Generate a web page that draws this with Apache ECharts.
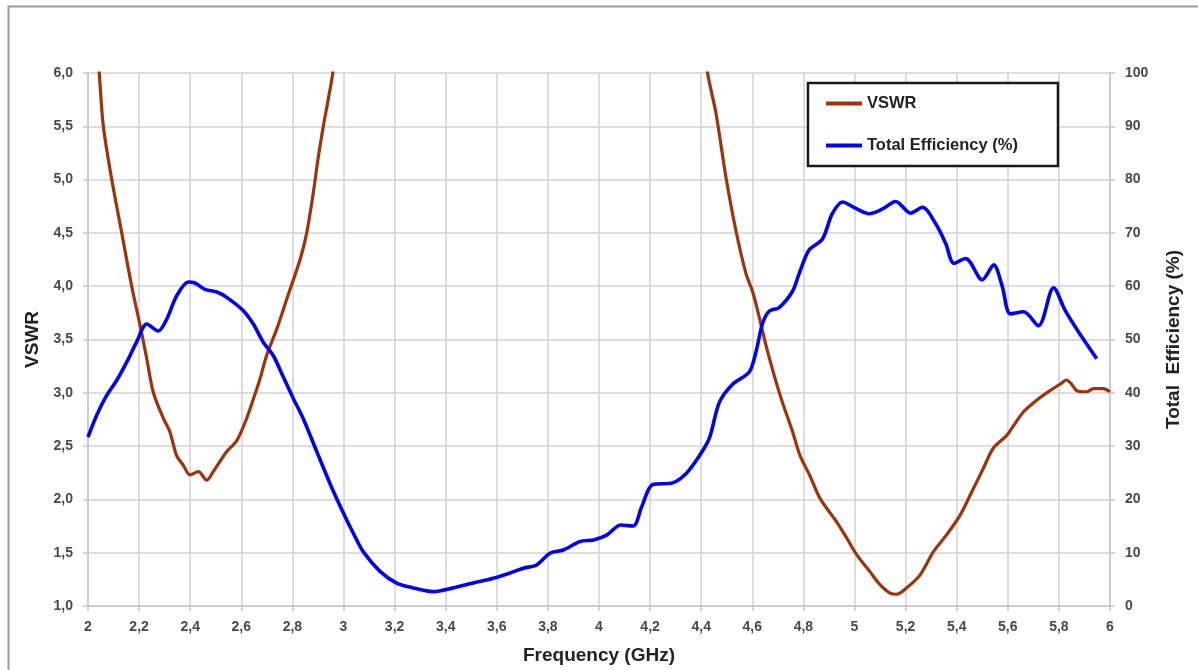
<!DOCTYPE html>
<html>
<head>
<meta charset="utf-8">
<script src="https://cdn.jsdelivr.net/npm/echarts@6/dist/echarts.min.js"></script>
<style>
html,body{margin:0;padding:0;background:#fff;}
#chart{width:1198px;height:670px;}
</style>
</head>
<body>
<div id="chart"></div>
<script>
// Frequency (GHz) and VSWR readings
var vswrFreq = [2.0, 2.044, 2.06, 2.093, 2.132, 2.171, 2.204, 2.23, 2.256, 2.295, 2.321, 2.347, 2.373, 2.399, 2.432, 2.465, 2.49, 2.543, 2.582, 2.621, 2.647, 2.673, 2.699, 2.739, 2.778, 2.83, 2.856, 2.882, 2.90, 2.921, 2.94, 2.958, 2.98,
  3.7,
  4.40, 4.425, 4.458, 4.497, 4.536, 4.575, 4.601, 4.627, 4.653, 4.692, 4.718, 4.757, 4.787, 4.826, 4.865, 4.93, 4.969, 5.009, 5.061, 5.10, 5.139, 5.165, 5.204, 5.256, 5.309, 5.361, 5.413, 5.465, 5.504, 5.543, 5.596, 5.622, 5.661, 5.713, 5.765, 5.804, 5.83, 5.85, 5.87, 5.909, 5.935, 5.974, 6.0];
var vswrVals = [7.3, 6.0, 5.5, 5.0, 4.5, 4.0, 3.63, 3.32, 3.0, 2.76, 2.63, 2.41, 2.32, 2.23, 2.26, 2.18, 2.26, 2.45, 2.55, 2.76, 2.94, 3.13, 3.35, 3.6, 3.88, 4.25, 4.5, 4.88, 5.19, 5.5, 5.75, 6.0, 6.5,
  null,
  6.5, 6.0, 5.62, 5.02, 4.52, 4.12, 3.95, 3.71, 3.45, 3.11, 2.91, 2.64, 2.41, 2.22, 2.01, 1.79, 1.64, 1.48, 1.32, 1.20, 1.12, 1.11, 1.17, 1.29, 1.51, 1.67, 1.85, 2.10, 2.29, 2.48, 2.60, 2.69, 2.82, 2.93, 3.02, 3.08, 3.12, 3.08, 3.02, 3.01, 3.04, 3.04, 3.01];

// Frequency (GHz) and total efficiency (%) readings
var effFreq = [2.0, 2.034, 2.073, 2.112, 2.151, 2.19, 2.23, 2.275, 2.308, 2.347, 2.393, 2.419, 2.458, 2.504, 2.543, 2.608, 2.647, 2.686, 2.725, 2.764, 2.804, 2.843, 2.895, 2.947, 2.999, 3.040, 3.077, 3.143, 3.208, 3.273, 3.351, 3.43, 3.508, 3.586, 3.652, 3.704, 3.756, 3.808, 3.86, 3.926, 3.978, 4.03, 4.085, 4.134, 4.167, 4.21, 4.288, 4.34, 4.393, 4.432, 4.471, 4.523, 4.588, 4.614, 4.64, 4.666, 4.705, 4.757, 4.783, 4.822, 4.874, 4.913, 4.953, 5.005, 5.057, 5.11, 5.161, 5.22, 5.266, 5.318, 5.357, 5.389, 5.435, 5.5, 5.545, 5.578, 5.61, 5.662, 5.72, 5.779, 5.825, 5.877, 5.948];
var effVals = [31.7, 35.8, 39.5, 42.3, 45.7, 49.5, 52.9, 51.6, 53.8, 58.2, 60.8, 60.6, 59.4, 58.9, 57.9, 55.4, 52.9, 49.5, 47.0, 43.0, 38.9, 35.1, 29.0, 23.0, 17.5, 13.5, 10.2, 6.5, 4.3, 3.4, 2.7, 3.4, 4.3, 5.2, 6.2, 7.1, 7.7, 9.9, 10.5, 12.1, 12.4, 13.3, 15.2, 15.0, 18.6, 22.8, 23.1, 24.8, 28.2, 31.5, 38.2, 41.6, 43.9, 47.6, 53.0, 55.3, 56.0, 59.0, 62.3, 66.8, 68.8, 73.6, 75.8, 74.6, 73.6, 74.5, 75.9, 73.7, 74.8, 71.7, 68.0, 64.3, 65.2, 61.2, 64.0, 60.0, 54.8, 55.2, 52.6, 59.7, 55.4, 51.4, 46.4];

var fontFam = '"Liberation Sans", Arial, sans-serif';

function pairs(xs, ys) {
  var out = [];
  for (var i = 0; i < xs.length; i++) out.push([xs[i], ys[i] === null ? '-' : ys[i]]);
  return out;
}
function commaFmt(digits) {
  return function (v) {
    var r = Math.round(v * 10) / 10;
    var s = digits ? r.toFixed(digits) : String(r);
    return s.replace('.', ',');
  };
}

var chart = echarts.init(document.getElementById('chart'));
var axisLineColor = '#c6c6c6';
var labelStyle = {fontFamily: fontFam, fontWeight: 'bold', fontSize: 14, color: '#484848'};

chart.setOption({
  backgroundColor: '#ffffff',
  animation: false,
  graphic: [{
    type: 'rect', left: 6, top: 4,
    shape: {x: 0, y: 0, width: 1200, height: 700},
    style: {fill: 'none', stroke: '#9a9a9a', lineWidth: 2},
    silent: true
  }],
  grid: {left: 88, right: 88, top: 73, bottom: 62, containLabel: false},
  legend: {
    orient: 'vertical',
    left: 808, top: 83,
    backgroundColor: '#fff',
    borderColor: '#1a1a1a', borderWidth: 2.5, borderRadius: 0,
    padding: [12, 40, 12, 18],
    itemGap: 25,
    itemWidth: 36, itemHeight: 4,
    icon: 'rect',
    textStyle: {fontFamily: fontFam, fontWeight: 'bold', fontSize: 16.5, color: '#222'},
    data: ['VSWR', 'Total Efficiency (%)']
  },
  xAxis: {
    type: 'value', min: 2, max: 6, interval: 0.2,
    axisLine: {show: true, onZero: false, lineStyle: {color: axisLineColor, width: 1.5}},
    axisTick: {show: true, length: 5, lineStyle: {color: axisLineColor, width: 1.5}},
    splitLine: {show: true, lineStyle: {color: '#d2d2d2', width: 1.5}},
    axisLabel: Object.assign({formatter: commaFmt(0), margin: 14}, labelStyle),
    name: 'Frequency (GHz)', nameLocation: 'middle', nameGap: 40,
    nameTextStyle: {fontFamily: fontFam, fontWeight: 'bold', fontSize: 19, color: '#222'}
  },
  yAxis: [{
    type: 'value', min: 1, max: 6, interval: 0.5, position: 'left',
    axisLine: {show: true, onZero: false, lineStyle: {color: axisLineColor, width: 1.5}},
    axisTick: {show: true, length: 5, lineStyle: {color: axisLineColor, width: 1.5}},
    splitLine: {show: true, lineStyle: {color: '#d2d2d2', width: 1.5}},
    axisLabel: Object.assign({formatter: commaFmt(1), margin: 15}, labelStyle),
    name: 'VSWR', nameLocation: 'middle', nameGap: 44,
    nameTextStyle: {fontFamily: fontFam, fontWeight: 'bold', fontSize: 19, color: '#222'}
  }, {
    type: 'value', min: 0, max: 100, interval: 10, position: 'right',
    axisLine: {show: true, onZero: false, lineStyle: {color: axisLineColor, width: 1.5}},
    axisTick: {show: true, length: 5, lineStyle: {color: axisLineColor, width: 1.5}},
    splitLine: {show: false},
    axisLabel: Object.assign({margin: 15}, labelStyle),
    name: 'Total  Efficiency (%)', nameLocation: 'middle', nameGap: 54,
    nameTextStyle: {fontFamily: fontFam, fontWeight: 'bold', fontSize: 19, color: '#222'}
  }],
  series: [{
    name: 'VSWR', type: 'line', yAxisIndex: 0,
    data: pairs(vswrFreq, vswrVals),
    smooth: 0.3, showSymbol: false, connectNulls: false,
    lineStyle: {color: '#9E3309', width: 3.2},
    itemStyle: {color: '#9E3309'}
  }, {
    name: 'Total Efficiency (%)', type: 'line', yAxisIndex: 1,
    data: pairs(effFreq, effVals),
    smooth: 0.3, showSymbol: false,
    lineStyle: {color: '#0000FF', width: 3.6},
    itemStyle: {color: '#0000FF'}
  }]
});
</script>
</body>
</html>
